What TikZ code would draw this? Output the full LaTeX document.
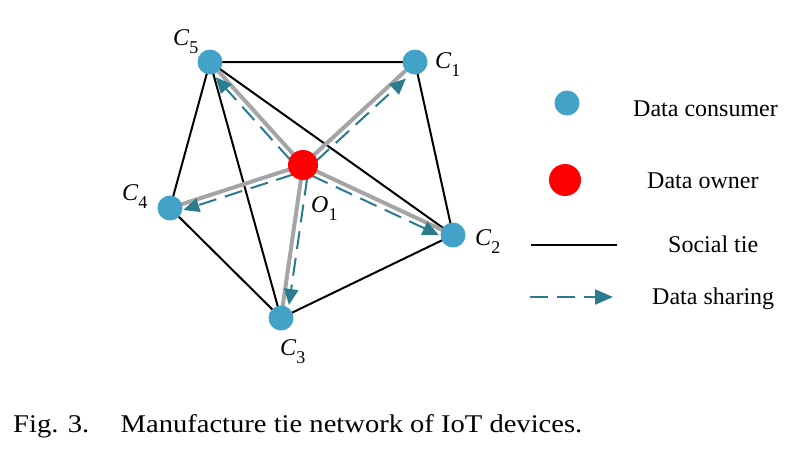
\documentclass[tikz,border=0pt]{standalone}
\usepackage{fontspec}
\setmainfont{Liberation Serif}
\usetikzlibrary{arrows.meta,calc}
\pgfdeclarelayer{background}
\pgfsetlayers{background,main}
\definecolor{cblue}{RGB}{67,162,200}
\definecolor{cteal}{RGB}{42,123,142}
\definecolor{cgray}{RGB}{165,165,165}
\newcommand{\clbl}[2]{\fontsize{24}{24}\selectfont\textit{#1}\raisebox{-8pt}{\fontsize{18}{18}\selectfont #2}}
\begin{document}
\begin{tikzpicture}[x=1pt,y=-1pt,
  consumer/.style={circle,fill=cblue,minimum size=25pt,inner sep=0pt},
  owner/.style={circle,fill=red,minimum size=30pt,inner sep=0pt},
  social/.style={black,line width=2pt},
  own/.style={cgray,line width=4pt},
  share/.style={cteal,line width=2pt,dash pattern=on 18pt off 9pt,-{Triangle[length=16pt,width=14pt]}},
  lbl/.style={anchor=base west,inner sep=0pt},
  txt/.style={anchor=base west,inner sep=0pt,font=\fontsize{24}{24}\selectfont}]
\useasboundingbox (0,0) rectangle (812,459);
\node[consumer] (C5) at (210,62) {};
\node[consumer] (C1) at (415,62) {};
\node[consumer] (C4) at (170,208) {};
\node[consumer] (C2) at (453,235) {};
\node[consumer] (C3) at (281,318) {};
\node[owner] (O) at (303,165) {};
\begin{pgfonlayer}{background}
\draw[social] (C5.center) -- (C1.center) -- (C2.center) -- (C3.center) -- (C4.center) -- (C5.center);
\draw[social] (C5.center) -- (C3.center);
\draw[social] (C5.center) -- (C2.center);
\foreach \c in {C1,C2,C3,C4,C5} \draw[own] (O.center) -- (\c.center);
\draw[share,shorten <=12pt,shorten >=15pt] ($(O)!6pt!90:(C5)$) -- ($(C5)!6pt!-90:(O)$);
\draw[share,shorten <=12pt,shorten >=18pt] ($(O)!6pt!-90:(C1)$) -- ($(C1)!6pt!90:(O)$);
\draw[share,shorten <=12pt,shorten >=12pt] ($(O)!6pt!90:(C4)$) -- ($(C4)!6pt!-90:(O)$);
\draw[share,shorten <=12pt,shorten >=13pt] ($(O)!6pt!-90:(C2)$) -- ($(C2)!6pt!90:(O)$);
\draw[share,shorten <=12pt,shorten >=14pt] ($(O)!6pt!90:(C3)$) -- ($(C3)!6pt!-90:(O)$);
\end{pgfonlayer}
\node[lbl] (L5) at (173,45) {\clbl{C}{5}};
\node[lbl] (L1) at (435,68) {\clbl{C}{1}};
\node[lbl] (L4) at (122,200) {\clbl{C}{4}};
\node[lbl] (L2) at (475,245) {\clbl{C}{2}};
\node[lbl] (L3) at (280,355) {\clbl{C}{3}};
\node[lbl] (LO) at (311,212) {\clbl{O}{1}};
% legend
\node[consumer] (K1) at (567,103) {};
\node[owner,minimum size=32pt] (K2) at (565,180) {};
\coordinate (K3a) at (531,245);
\coordinate (K3b) at (617,245);
\draw[social] (K3a) -- (K3b);
\coordinate (K4a) at (530,297);
\coordinate (K4b) at (613,297);
\draw[share,-{Triangle[length=18pt,width=15pt]}] (K4a) -- (K4b);
\node[txt] (T1) at (633,116) {Data consumer};
\node[txt] (T2) at (647,188) {Data owner};
\node[txt] (T3) at (668,252) {Social tie};
\node[txt] (T4) at (652,304) {Data sharing};
\node[anchor=base west,inner sep=0pt,font=\fontsize{25.5}{25.5}\selectfont] (cap) at (13,432) {\scalebox{1.12}[1]{Fig. 3.\hspace{28pt}Manufacture tie network of IoT devices.}};
\end{tikzpicture}
\end{document}
